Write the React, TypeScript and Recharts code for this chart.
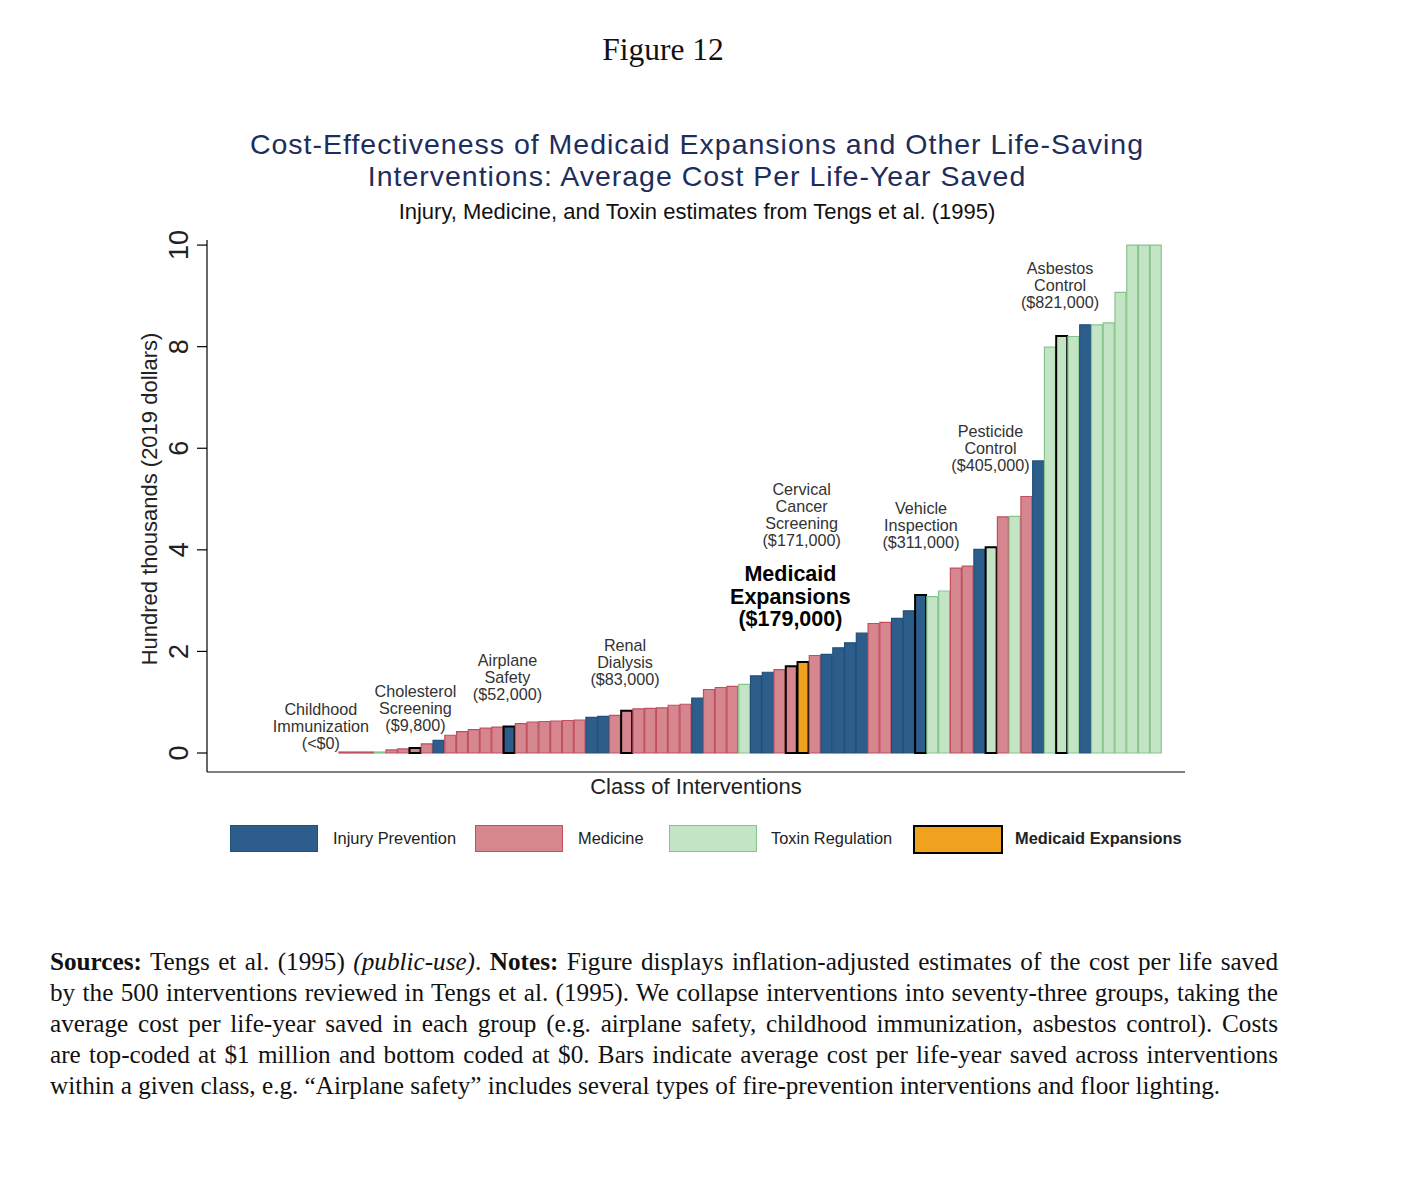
import React from 'react';
import { ComposedChart, Bar, Line, XAxis, YAxis, Cell, Label } from 'recharts';

// average cost per life-year saved, hundred thousands of 2019 dollars
const costs = [
  0, 0, 0.01, 0.02, 0.06, 0.08, 0.098, 0.18, 0.25, 0.35,
  0.42, 0.46, 0.49, 0.51, 0.52, 0.58, 0.61, 0.62, 0.63, 0.64,
  0.65, 0.7, 0.72, 0.74, 0.83, 0.87, 0.88, 0.89, 0.94, 0.96,
  1.08, 1.25, 1.29, 1.31, 1.35, 1.52, 1.59, 1.64, 1.71, 1.79,
  1.92, 1.94, 2.07, 2.17, 2.36, 2.55, 2.57, 2.65, 2.8, 3.11,
  3.08, 3.19, 3.64, 3.68, 4.01, 4.05, 4.65, 4.66, 5.05, 5.75,
  7.99, 8.21, 8.2, 8.43, 8.43, 8.47, 9.07, 10, 10, 10,
];

// I = injury prevention, M = medicine, T = toxin regulation, E = medicaid expansions
const groups = [
  'M', 'M', 'M', 'T', 'M', 'M', 'M', 'M', 'I', 'M',
  'M', 'M', 'M', 'M', 'I', 'M', 'M', 'M', 'M', 'M',
  'M', 'I', 'I', 'M', 'M', 'M', 'M', 'M', 'M', 'M',
  'I', 'M', 'M', 'M', 'T', 'I', 'I', 'M', 'M', 'E',
  'M', 'I', 'I', 'I', 'I', 'M', 'M', 'I', 'I', 'I',
  'T', 'T', 'M', 'M', 'I', 'T', 'M', 'T', 'M', 'I',
  'T', 'T', 'T', 'I', 'T', 'T', 'T', 'T', 'T', 'T',
];

const callouts = [
  { index: 0, lines: ['Childhood', 'Immunization', '(<$0)'] },
  { index: 6, lines: ['Cholesterol', 'Screening', '($9,800)'] },
  { index: 14, lines: ['Airplane', 'Safety', '($52,000)'] },
  { index: 24, lines: ['Renal', 'Dialysis', '($83,000)'] },
  { index: 38, lines: ['Cervical', 'Cancer', 'Screening', '($171,000)'] },
  { index: 39, lines: ['Medicaid', 'Expansions', '($179,000)'] },
  { index: 49, lines: ['Vehicle', 'Inspection', '($311,000)'] },
  { index: 55, lines: ['Pesticide', 'Control', '($405,000)'] },
  { index: 61, lines: ['Asbestos', 'Control', '($821,000)'] },
];

const legendItems = [
  { key: 'I', label: 'Injury Prevention' },
  { key: 'M', label: 'Medicine' },
  { key: 'T', label: 'Toxin Regulation' },
  { key: 'E', label: 'Medicaid Expansions' },
];

const titleLines = [
  'Cost-Effectiveness of Medicaid Expansions and Other Life-Saving',
  'Interventions: Average Cost Per Life-Year Saved',
];

const yTicks = [0, 2, 4, 6, 8, 10];

// styling
const fills: Record<string, string> = { I: '#2d5e8b', M: '#d5868f', T: '#c4e4c6', E: '#f0a11e' };
const strokes: Record<string, string> = { I: '#21507c', M: '#c0505f', T: '#86c58a', E: '#000' };
// offset of callout text (dx from bar centre, dy of last baseline from bar top)
const calloutPos: Record<number, { dx: number; dy: number }> = {
  0: { dx: -24, dy: -4 },
  6: { dx: 0, dy: -17 },
  14: { dx: -2, dy: -27 },
  24: { dx: -2, dy: -26 },
  38: { dx: 10, dy: -120 },
  39: { dx: -13, dy: -36 },
  49: { dx: 0, dy: -47 },
  55: { dx: -1, dy: -76 },
  61: { dx: -2, dy: -28 },
};

const calloutByIndex = new Map(callouts.map((c) => [c.index, c]));
const data = costs.map((v, i) => ({
  name: `c${i + 1}`,
  value: v,
  group: groups[i],
  mark: calloutByIndex.has(i) ? v : null,
}));

const sans = '"Liberation Sans", Arial, sans-serif';
const serif = '"Liberation Serif", "Times New Roman", serif';

const YTick = (props: any) => {
  const { x, y, payload } = props;
  return (
    <text
      transform={`translate(${x - 7}, ${y}) rotate(-90)`}
      textAnchor="middle"
      fontSize={27}
      fontFamily={sans}
      fill="#222"
    >
      {payload.value}
    </text>
  );
};

const renderCallout = (props: any) => {
  const { cx, cy, index } = props;
  const c = calloutByIndex.get(index);
  if (!c || cx == null || cy == null) return <g key={`n${index}`} />;
  const pos = calloutPos[index];
  const bold = index === 39;
  const lh = bold ? 22.5 : 17;
  const x = cx + pos.dx;
  const last = cy + pos.dy;
  return (
    <text
      key={`c${index}`}
      textAnchor="middle"
      fontFamily={sans}
      fontSize={bold ? 21.5 : 16.2}
      fontWeight={bold ? 700 : 400}
      fill={bold ? '#000' : '#333'}
    >
      {c.lines.map((l, i) => (
        <tspan key={i} x={x} y={last - (c.lines.length - 1 - i) * lh}>
          {l}
        </tspan>
      ))}
    </text>
  );
};

const footLines = [
  <>
    <b>Sources:</b> Tengs et al. (1995) <i>(public-use)</i>. <b>Notes:</b> Figure displays inflation-adjusted estimates of the cost per life saved
  </>,
  <>by the 500 interventions reviewed in Tengs et al. (1995). We collapse interventions into seventy-three groups, taking the</>,
  <>average cost per life-year saved in each group (e.g. airplane safety, childhood immunization, asbestos control). Costs</>,
  <>are top-coded at $1 million and bottom coded at $0. Bars indicate average cost per life-year saved across interventions</>,
  <>within a given class, e.g. “Airplane safety” includes several types of fire-prevention interventions and floor lighting.</>,
];

export default function App() {
  return (
    <div style={{ position: 'absolute', left: 0, top: 0, width: 1404, height: 1188, background: '#fff' }}>
      <div
        style={{
          position: 'absolute', left: 563, width: 200, top: 31, textAlign: 'center',
          fontFamily: serif, fontSize: 31.5, lineHeight: '38px', color: '#111',
        }}
      >
        Figure 12
      </div>
      {titleLines.map((t, i) => (
        <div
          key={i}
          style={{
            position: 'absolute', left: 97, width: 1200, top: 130 + i * 32, textAlign: 'center',
            fontFamily: sans, fontSize: 28.5, lineHeight: '28px', letterSpacing: '1px',
            color: '#1e2d5c', whiteSpace: 'nowrap',
          }}
        >
          {t}
        </div>
      ))}
      <div
        style={{
          position: 'absolute', left: 197, width: 1000, top: 199, textAlign: 'center',
          fontFamily: sans, fontSize: 22, lineHeight: '26px', color: '#111',
        }}
      >
        Injury, Medicine, and Toxin estimates from Tengs et al. (1995)
      </div>

      <div style={{ position: 'absolute', left: 0, top: 0 }}>
        <ComposedChart
          width={1404}
          height={900}
          data={data}
          margin={{ top: 240, right: 219, left: 107, bottom: 100 }}
          barSize={11}
        >
          <XAxis
            dataKey="name"
            tick={false}
            tickLine={false}
            axisLine={{ stroke: '#000', strokeWidth: 1.2 }}
            height={28}
            padding={{ left: 132, right: 23 }}
          >
            <Label
              value="Class of Interventions"
              position="center"
              style={{ fontFamily: sans, fontSize: 22, fill: '#222' }}
            />
          </XAxis>
          <YAxis
            type="number"
            domain={[-0.374, 10.1]}
            allowDataOverflow
            ticks={yTicks}
            width={100}
            tickSize={10}
            tick={<YTick />}
            axisLine={{ stroke: '#000', strokeWidth: 1.2 }}
            tickLine={{ stroke: '#000', strokeWidth: 1.2 }}
          >
            <Label
              content={(p: any) => {
                const vb = p.viewBox;
                const cx = vb.x + 50;
                const cy = vb.y + vb.height / 2 - 7;
                return (
                  <text
                    transform={`translate(${cx}, ${cy}) rotate(-90)`}
                    textAnchor="middle"
                    fontFamily={sans}
                    fontSize={22}
                    fill="#222"
                  >
                    Hundred thousands (2019 dollars)
                  </text>
                );
              }}
            />
          </YAxis>
          <Bar dataKey="value" isAnimationActive={false} minPointSize={1}>
            {data.map((d, i) => (
              <Cell
                key={i}
                fill={fills[d.group]}
                stroke={calloutByIndex.has(i) && d.value > 0 ? '#000' : strokes[d.group]}
                strokeWidth={calloutByIndex.has(i) && d.value > 0 ? 2 : 1.2}
              />
            ))}
          </Bar>
          <Line
            dataKey="mark"
            stroke="none"
            dot={renderCallout}
            activeDot={false}
            connectNulls={false}
            isAnimationActive={false}
          />
        </ComposedChart>
      </div>

      {legendItems.map((item, i) => {
        const boxX = [230, 475, 669, 913][i];
        const textX = [333, 578, 771, 1015][i];
        return (
          <React.Fragment key={item.key}>
            <div
              style={{
                position: 'absolute', left: boxX, top: 825, width: 86, height: 25,
                background: fills[item.key],
                border: `${item.key === 'E' ? 2 : 1}px solid ${item.key === 'E' ? '#000' : strokes[item.key]}`,
              }}
            />
            <div
              style={{
                position: 'absolute', left: textX, top: 828, fontFamily: sans, fontSize: 16.4,
                lineHeight: '20px', color: '#222', fontWeight: item.key === 'E' ? 700 : 400,
                whiteSpace: 'nowrap',
              }}
            >
              {item.label}
            </div>
          </React.Fragment>
        );
      })}

      <div
        style={{
          position: 'absolute', left: 50, top: 946, width: 1228,
          fontFamily: serif, fontSize: 25.2, lineHeight: '31px', color: '#111',
        }}
      >
        {footLines.map((l, i) => (
          <div
            key={i}
            style={{
              textAlign: 'justify',
              textAlignLast: i < footLines.length - 1 ? 'justify' : 'left',
              whiteSpace: 'nowrap',
            }}
          >
            {l}
          </div>
        ))}
      </div>
    </div>
  );
}
